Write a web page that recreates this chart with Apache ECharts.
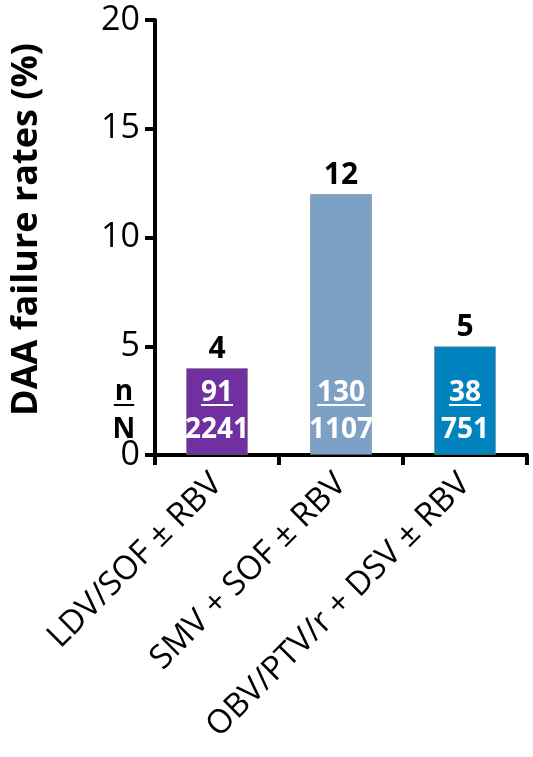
<!DOCTYPE html>
<html>
<head>
<meta charset="utf-8">
<script src="https://cdn.jsdelivr.net/npm/echarts@6/dist/echarts.min.js"></script>
<style>
  html, body { margin: 0; padding: 0; background: #fff; }
  #chart { width: 533px; height: 757px; }
</style>
</head>
<body>
<div id="chart"></div>
<script>
// Regimens and their DAA failure data
var regimens = ['LDV/SOF ± RBV', 'SMV + SOF ± RBV', 'OBV/PTV/r + DSV ± RBV'];
var failureRates = [4, 12, 5];      // %
var failures = [91, 130, 38];       // n
var treated = [2241, 1107, 751];    // N
var barColors = ['#7030A0', '#7DA0C5', '#0083BE'];
var yTicks = { min: 0, max: 20, step: 5 };

var FONT = '"Open Sans", "Liberation Sans", sans-serif';

var measureCtx = document.createElement('canvas').getContext('2d');
function textWidth(str, font) {
  measureCtx.font = font;
  return measureCtx.measureText(str).width;
}

var chart = echarts.init(document.getElementById('chart'), null, { renderer: 'canvas' });

// n / N pairs written inside each bar, with the "n" line underlined
function renderCounts(params, api) {
  var idx = api.value(0);
  var base = api.coord([idx, 0]);
  var cx = base[0], by = base[1];
  var fs = 28;
  var font = 'bold ' + fs + 'px ' + FONT;
  var nStr = String(api.value(1));
  var NStr = String(api.value(2));
  var w = textWidth(nStr, font);
  var children = [
    { type: 'text', style: { x: cx, y: by - 62, text: nStr, fill: '#fff', font: font, textAlign: 'center', textVerticalAlign: 'middle' } },
    { type: 'rect', shape: { x: cx - w / 2, y: by - 51, width: w, height: 2 }, style: { fill: '#fff' } },
    { type: 'text', style: { x: cx, y: by - 25, text: NStr, fill: '#fff', font: font, textAlign: 'center', textVerticalAlign: 'middle' } }
  ];
  if (params.dataIndex === 0) {
    // key on the left of the value axis
    var kx = params.coordSys.x - 31;
    var kw = textWidth('n', font);
    children.push(
      { type: 'text', style: { x: kx, y: by - 63, text: 'n', fill: '#000', font: font, textAlign: 'center', textVerticalAlign: 'middle' } },
      { type: 'rect', shape: { x: kx - kw / 2 - 1, y: by - 51, width: kw + 2, height: 2 }, style: { fill: '#000' } },
      { type: 'text', style: { x: kx, y: by - 25, text: 'N', fill: '#000', font: font, textAlign: 'center', textVerticalAlign: 'middle' } }
    );
  }
  return { type: 'group', children: children };
}

var option = {
  animation: false,
  backgroundColor: '#fff',
  grid: { left: 155, right: 6, top: 20, bottom: 302, containLabel: false, outerBoundsMode: 'none' },
  xAxis: {
    type: 'category',
    data: regimens,
    boundaryGap: true,
    axisLine: { show: true, lineStyle: { color: '#000', width: 4 } },
    axisTick: { show: true, length: 10, alignWithLabel: false, lineStyle: { color: '#000', width: 4 } },
    axisLabel: {
      rotate: 45,
      interval: 0,
      margin: 24,
      color: '#000',
      fontFamily: FONT,
      fontSize: 33
    },
    splitLine: { show: false }
  },
  yAxis: {
    type: 'value',
    min: yTicks.min,
    max: yTicks.max,
    interval: yTicks.step,
    name: 'DAA failure rates (%)',
    nameLocation: 'middle',
    nameGap: 110,
    nameTextStyle: { color: '#000', fontFamily: FONT, fontWeight: 'bold', fontSize: 36, padding: [0, 0, 0, 16] },
    axisLine: { show: true, lineStyle: { color: '#000', width: 4 } },
    axisTick: { show: true, length: 10, lineStyle: { color: '#000', width: 4 } },
    axisLabel: { color: '#000', fontFamily: FONT, fontSize: 34, margin: 15 },
    splitLine: { show: false }
  },
  series: [
    {
      type: 'bar',
      barWidth: '50%',
      data: failureRates.map(function (v, i) {
        return { value: v, itemStyle: { color: barColors[i] } };
      }),
      itemStyle: { borderColor: 'rgba(120,120,120,0.5)', borderWidth: 1 },
      label: {
        show: true,
        position: 'top',
        distance: 4,
        color: '#000',
        fontFamily: FONT,
        fontWeight: 'bold',
        fontSize: 30
      },
      z: 2
    },
    {
      type: 'custom',
      data: failures.map(function (n, i) { return [i, n, treated[i]]; }),
      encode: { x: 0, y: -1 },
      renderItem: renderCounts,
      clip: false,
      silent: true,
      z: 5
    }
  ]
};

chart.setOption(option);
</script>
</body>
</html>
